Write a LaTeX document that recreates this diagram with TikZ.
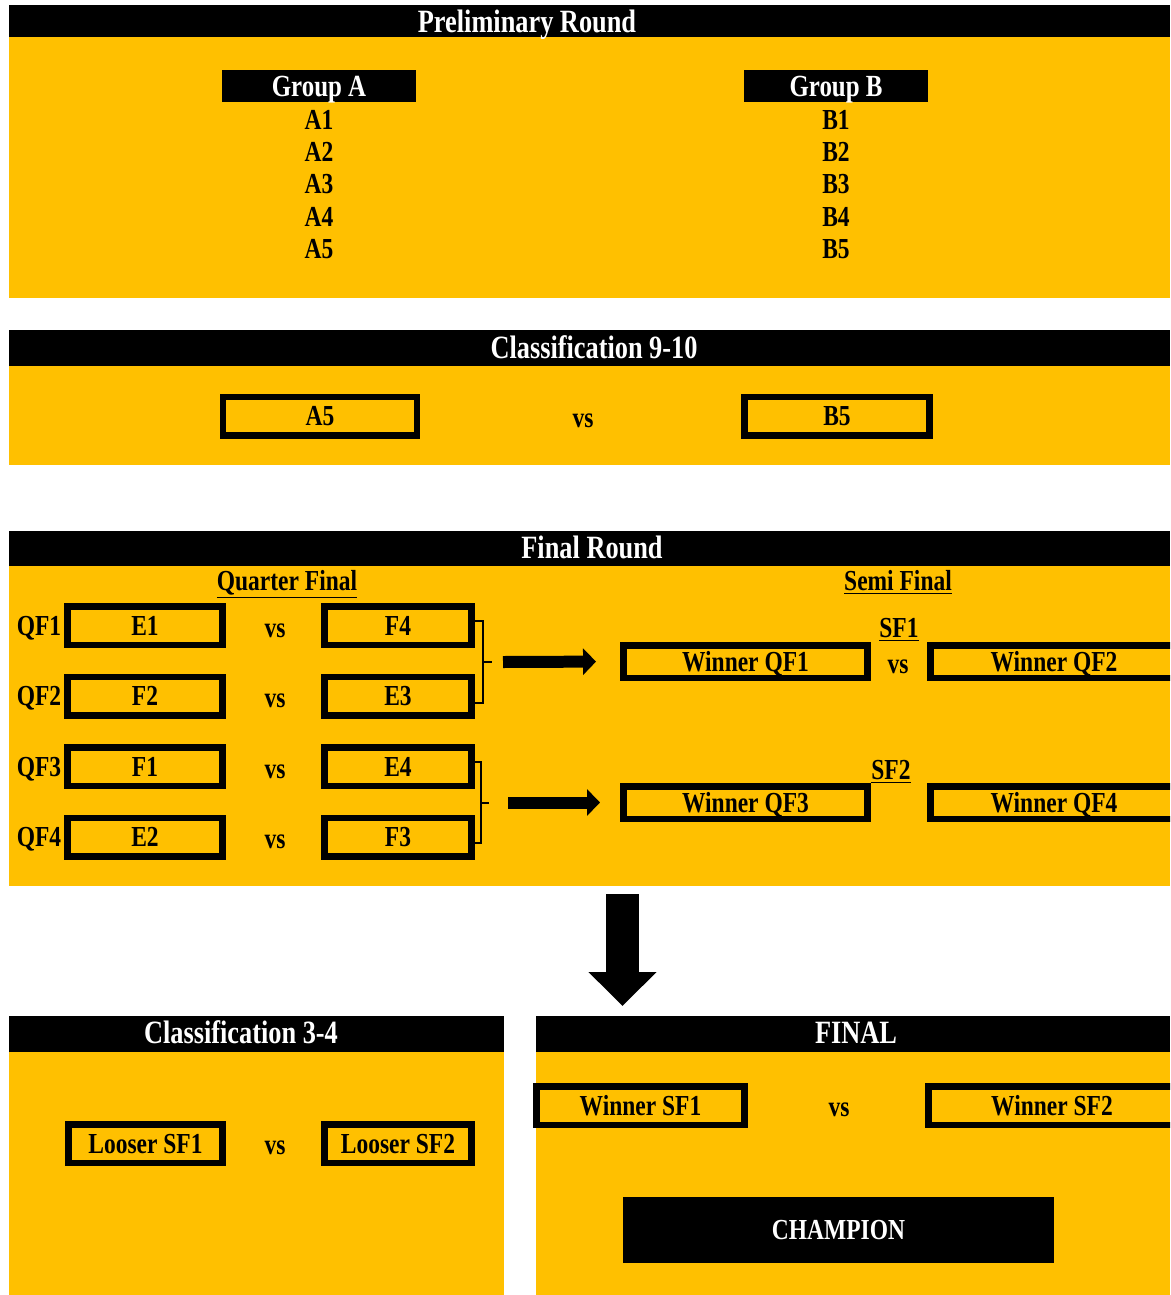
\documentclass[tikz,border=0pt]{standalone}
\usepackage{fontspec}
\setmainfont{Liberation Serif}[FakeStretch=0.81]
\usetikzlibrary{arrows.meta}
\definecolor{gold}{HTML}{FFC000}
\tikzset{
	bartitle/.style={text=white, inner sep=0pt, font=\fontsize{18.5}{20}\selectfont\bfseries, text height=12.2pt, text depth=0pt},
	grouphead/.style={fill=black, text=white, inner sep=0pt, minimum height=0.64cm, font=\fontsize{17.5}{19}\selectfont\bfseries, text height=11.5pt, text depth=0pt},
	txt/.style={inner sep=0pt, font=\fontsize{16.5}{18}\selectfont\bfseries, text height=10.9pt, text depth=0pt},
	teambox/.style={txt, draw=black, line width=3.7pt, minimum height=0.77cm},
	champbox/.style={txt, fill=black, text=white, minimum width=8.62cm, minimum height=1.32cm},
	bracket/.style={line width=1.3pt},
	fatarrow/.style={line width=0.24cm, -{Triangle[width=0.52cm,length=0.26cm]}},
	bigarrow/.style={line width=0.66cm, -{Triangle[width=1.32cm,length=0.68cm]}}
}

\begin{document}
\begin{tikzpicture}[x=0.02cm, y=-0.02cm]
			%%%%% START %%%%%
			\clip (0, 0) rectangle (1170, 1295);
			
			% preliminary round
			\fill[black] (9, 5) rectangle (1170, 37);
			\fill[gold] (9, 37) rectangle (1170, 298);
			\node[bartitle] (prelim) at (527, 22) {Preliminary Round};
			
			\node[grouphead, minimum width=3.88cm] (grpA) at (319, 86) {Group A};
			\node[grouphead, minimum width=3.68cm] (grpB) at (836, 86) {Group B};
			\foreach \i in {1,...,5} {
				\node[txt] (a\i) at (319, 87.5+32.3*\i) {A\i};
				\node[txt] (b\i) at (836, 87.5+32.3*\i) {B\i};
			}
			
			% classification 9-10
			\fill[black] (9, 330) rectangle (1170, 366);
			\fill[gold] (9, 366) rectangle (1170, 465);
			\node[bartitle] (clnine) at (594, 348) {Classification 9-10};
			
			\node[teambox, minimum width=3.89cm] (lastA) at (320, 416) {A5};
			\node[txt] (vsnine) at (583, 418) {vs};
			\node[teambox, minimum width=3.71cm] (lastB) at (837, 416) {B5};
			
			% final round
			\fill[black] (9, 531) rectangle (1170, 566);
			\fill[gold] (9, 566) rectangle (1170, 886);
			\node[bartitle] (finrd) at (592, 548) {Final Round};
			
			\node[txt] (qfhead) at (287, 581) {\underline{Quarter Final}};
			\node[txt] (sfhead) at (898, 581) {\underline{Semi Final}};
			
			\foreach \q/\y/\l/\r in {1/625.5/E1/F4, 2/696/F2/E3, 3/766.5/F1/E4, 4/837/E2/F3} {
				\node[txt] (qf\q) at (39, \y) {QF\q};
				\node[teambox, minimum width=3.11cm] (qf\q l) at (145, \y) {\l};
				\node[txt] (qf\q vs) at (275, \y+2) {vs};
				\node[teambox, minimum width=2.95cm] (qf\q r) at (398, \y) {\r};
			}
			
			\draw[bracket] (475, 621) -- (483, 621) -- (483, 703) -- (475, 703);
			\draw[bracket] (483, 662) -- (492, 662);
			\draw[bracket] (475, 762) -- (481, 762) -- (481, 843) -- (475, 843);
			\draw[bracket] (481, 803) -- (489, 803);
			
			\node[txt] (sfone) at (899, 628) {\underline{SF1}};
			\node[txt] (sftwo) at (891, 770) {\underline{SF2}};
			\node[teambox, minimum width=4.89cm, minimum height=0.65cm] (wqf1) at (745.5, 661.5) {Winner QF1};
			\node[txt] (sfvs) at (898, 664) {vs};
			\node[teambox, minimum width=4.95cm, minimum height=0.65cm] (wqf2) at (1054, 661.5) {Winner QF2};
			\node[teambox, minimum width=4.89cm, minimum height=0.65cm] (wqf3) at (745.5, 802.5) {Winner QF3};
			\node[teambox, minimum width=4.95cm, minimum height=0.65cm] (wqf4) at (1054, 802.5) {Winner QF4};
			
			\coordinate (qftop) at (503, 662);
			\coordinate (qfbot) at (508, 802.5);
			\draw[fatarrow, shorten >=0.48cm] (qftop) -- (wqf1.west);
			\draw[fatarrow, shorten >=0.40cm] (qfbot) -- (wqf3.west);
			
			\coordinate (downfrom) at (622.5, 894);
			\coordinate (downto) at (622.5, 1006);
			\draw[bigarrow] (downfrom) -- (downto);
			
			% classification 3-4
			\fill[black] (9, 1016) rectangle (504, 1052);
			\fill[gold] (9, 1052) rectangle (504, 1295);
			\node[bartitle] (clthree) at (241, 1033) {Classification 3-4};
			
			\node[teambox, minimum width=3.09cm] (lsf1) at (145.5, 1143.5) {Looser SF1};
			\node[txt] (vsthree) at (275, 1145) {vs};
			\node[teambox, minimum width=2.95cm] (lsf2) at (398, 1143.5) {Looser SF2};
			
			% final
			\fill[black] (536, 1016) rectangle (1170, 1052);
			\fill[gold] (536, 1052) rectangle (1170, 1295);
			\node[bartitle] (final) at (856, 1033) {FINAL};
			
			\node[teambox, minimum width=4.17cm] (wsf1) at (640.5, 1105.5) {Winner SF1};
			\node[txt] (vsfinal) at (839, 1107) {vs};
			\node[teambox, minimum width=4.95cm] (wsf2) at (1052, 1105.5) {Winner SF2};
			
			\node[champbox] (champ) at (838.5, 1230) {CHAMPION};
			
			%%%%% END %%%%%
\end{tikzpicture}
\end{document}
